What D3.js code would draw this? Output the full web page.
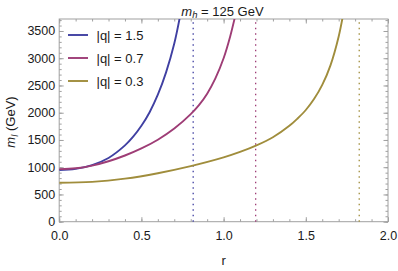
<!DOCTYPE html>
<html>
<head>
<meta charset="utf-8">
<script src="https://cdn.jsdelivr.net/npm/d3@7"></script>
<style>
  body { margin: 0; background: #fff; }
  text { font-family: "Liberation Sans", Arial, sans-serif; fill: #1a1a1a; }
</style>
</head>
<body>
<script>
var width = 398;
var height = 271;

// values (r, m_l in GeV)
var rBlue  = [0, 0.1, 0.2, 0.3, 0.4, 0.45, 0.5, 0.55, 0.6, 0.65, 0.7, 0.74];
var mBlue  = [950, 970, 1040, 1170, 1400, 1560, 1760, 2010, 2330, 2740, 3270, 3850];

var rMag   = [0, 0.1, 0.2, 0.3, 0.4, 0.5, 0.6, 0.7, 0.8, 0.85, 0.9, 0.95, 1.0, 1.04, 1.08];
var mMag   = [965, 980, 1030, 1110, 1215, 1345, 1505, 1710, 1975, 2140, 2350, 2630, 3000, 3400, 3900];

var rOlive = [0, 0.2, 0.4, 0.6, 0.8, 1.0, 1.1, 1.2, 1.3, 1.4, 1.45, 1.5, 1.55, 1.6, 1.65, 1.7, 1.73];
var mOlive = [715, 730, 790, 890, 1020, 1180, 1280, 1400, 1550, 1760, 1895, 2050, 2250, 2510, 2870, 3400, 3850];

var seriesNames = ["|q| = 1.5", "|q| = 0.7", "|q| = 0.3"];
var colors = ["#4040a2", "#9e3d76", "#a08d3c"];
var asymptotes = [0.815, 1.195, 1.825];

var xTicks = [0, 0.5, 1.0, 1.5, 2.0];
var yTicks = [0, 500, 1000, 1500, 2000, 2500, 3000, 3500];

// plot box (note: "top" is a reserved window prop, so pLeft etc.)
var pLeft = 59.2, pRight = 388, pTop = 19, pBottom = 221.7;

var svg = d3.select("body").append("svg")
    .attr("width", width)
    .attr("height", height);

var x = d3.scaleLinear().domain([0, 2]).range([pLeft, pRight]);
var y = d3.scaleLinear().domain([0, 3720]).range([pBottom, pTop]);

svg.append("clipPath").attr("id", "clip")
  .append("rect")
    .attr("x", pLeft).attr("y", pTop)
    .attr("width", pRight - pLeft).attr("height", pBottom - pTop);

// frame
svg.append("rect")
    .attr("x", pLeft).attr("y", pTop)
    .attr("width", pRight - pLeft).attr("height", pBottom - pTop)
    .attr("fill", "none")
    .attr("stroke", "#a0a0a0")
    .attr("stroke-width", 1);

var xMinor = d3.range(0, 2.001, 0.1);
var yMinor = d3.range(0, 3701, 100);

function styleAxis(g) {
  g.select(".domain").remove();
  g.selectAll(".tick line").attr("stroke", "#a0a0a0");
  g.selectAll("text").attr("font-size", "12.5px").attr("fill", "#1a1a1a")
    .attr("font-family", "Liberation Sans, Arial, sans-serif");
}

// minor ticks, all four sides
svg.append("g").attr("transform", "translate(0," + pBottom + ")")
  .call(d3.axisBottom(x).tickValues(xMinor).tickSize(-2.5).tickFormat(""))
  .call(styleAxis);
svg.append("g").attr("transform", "translate(0," + pTop + ")")
  .call(d3.axisTop(x).tickValues(xMinor).tickSize(-2.5).tickFormat(""))
  .call(styleAxis);
svg.append("g").attr("transform", "translate(" + pLeft + ",0)")
  .call(d3.axisLeft(y).tickValues(yMinor).tickSize(-2.5).tickFormat(""))
  .call(styleAxis);
svg.append("g").attr("transform", "translate(" + pRight + ",0)")
  .call(d3.axisRight(y).tickValues(yMinor).tickSize(-2.5).tickFormat(""))
  .call(styleAxis);

// major ticks
svg.append("g").attr("transform", "translate(0," + pBottom + ")")
  .call(d3.axisBottom(x).tickValues(xTicks).tickSize(-4.5).tickPadding(9.4)
        .tickFormat(d3.format(".1f")))
  .call(styleAxis);
svg.append("g").attr("transform", "translate(0," + pTop + ")")
  .call(d3.axisTop(x).tickValues(xTicks).tickSize(-4.5).tickFormat(""))
  .call(styleAxis);
svg.append("g").attr("transform", "translate(" + pLeft + ",0)")
  .call(d3.axisLeft(y).tickValues(yTicks).tickSize(-4.5).tickPadding(4)
        .tickFormat(d3.format("d")))
  .call(styleAxis);
svg.append("g").attr("transform", "translate(" + pRight + ",0)")
  .call(d3.axisRight(y).tickValues(yTicks).tickSize(-4.5).tickFormat(""))
  .call(styleAxis);

// dotted asymptotes
svg.selectAll(".asym").data(asymptotes).enter().append("line")
    .attr("class", "asym")
    .attr("x1", function(d) { return x(d); })
    .attr("x2", function(d) { return x(d); })
    .attr("y1", y(0)).attr("y2", pTop)
    .attr("stroke", function(d, i) { return colors[i]; })
    .attr("stroke-width", 1.3)
    .attr("stroke-dasharray", "1.4,4.1");

// curves
var line = d3.line()
    .x(function(d) { return x(d[0]); })
    .y(function(d) { return y(d[1]); })
    .curve(d3.curveCatmullRom.alpha(0.5));

var allR = [rBlue, rMag, rOlive];
var allM = [mBlue, mMag, mOlive];

var plot = svg.append("g").attr("clip-path", "url(#clip)");
for (var i = 0; i < 3; i++) {
  var pts = d3.zip(allR[i], allM[i]);
  plot.append("path")
      .attr("d", line(pts))
      .attr("fill", "none")
      .attr("stroke", colors[i])
      .attr("stroke-width", 1.9);
}

// legend
var legend = svg.append("g");
for (var j = 0; j < 3; j++) {
  var ly = 35 + j * 23;
  legend.append("line")
      .attr("x1", 68).attr("x2", 88)
      .attr("y1", ly).attr("y2", ly)
      .attr("stroke", colors[j])
      .attr("stroke-width", 1.9);
  legend.append("text")
      .attr("x", 96.5).attr("y", ly + 4.5)
      .attr("font-size", "13px")
      .text(seriesNames[j]);
}

// title
var title = svg.append("text")
    .attr("x", 222.5).attr("y", 15.5)
    .attr("text-anchor", "middle")
    .attr("font-size", "13px");
title.append("tspan").attr("font-style", "italic").text("m");
title.append("tspan").attr("font-style", "italic").attr("font-size", "9.5px")
    .attr("dy", 2.5).text("h");
title.append("tspan").attr("dy", -2.5).text(" = 125 GeV");

// axis labels
svg.append("text")
    .attr("x", x(1)).attr("y", 265)
    .attr("text-anchor", "middle")
    .attr("font-size", "13px")
    .text("r");

var yl = svg.append("text")
    .attr("transform", "translate(15," + 122 + ") rotate(-90)")
    .attr("text-anchor", "middle")
    .attr("font-size", "13px");
yl.append("tspan").attr("font-style", "italic").text("m");
yl.append("tspan").attr("font-style", "italic").attr("font-size", "9.5px")
    .attr("dy", 2.5).text("l");
yl.append("tspan").attr("dy", -2.5).text(" (GeV)");
</script>
</body>
</html>
